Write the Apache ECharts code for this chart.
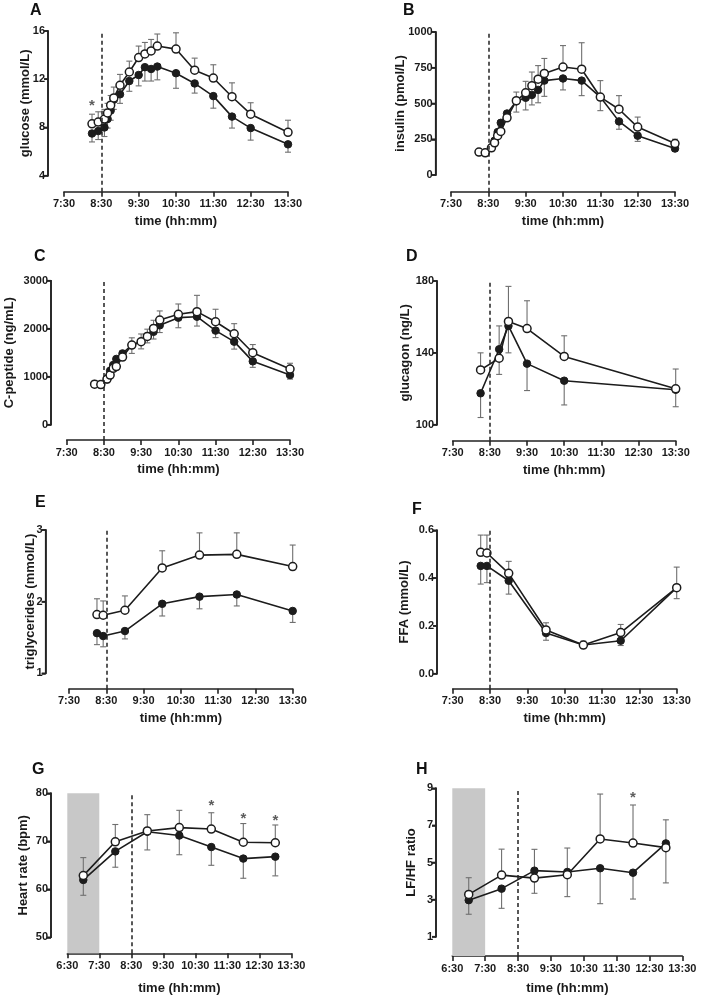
<!DOCTYPE html>
<html><head><meta charset="utf-8">
<script src="https://cdn.jsdelivr.net/npm/echarts@6/dist/echarts.min.js"></script>
<style>html,body{margin:0;padding:0;background:#fff}#c{width:701px;height:999px}</style>
</head><body><div id="c"></div>
<script>
// ---------------- DATA ----------------
const timesABC = ['8:15','8:25','8:35','8:40','8:45','8:50','9:00','9:15','9:30','9:40','9:50','10:00','10:30','11:00','11:30','12:00','12:30','13:30'];
const glucoseOpen      = [8.3, 8.45, 8.7, 9.2, 9.85, 10.45, 11.5, 12.6, 13.8, 14.1, 14.35, 14.75, 14.5, 12.75, 12.1, 10.55, 9.1, 7.6];
const glucoseOpenErr   = [0.8, 0.85, 0.8, 0.8, 0.8, 0.9, 0.9, 0.9, 0.95, 0.95, 0.95, 1.0, 1.35, 1.0, 1.1, 1.15, 0.95, 1.0];
const glucoseClosed    = [7.5, 7.7, 8.0, 8.7, 9.4, 10.3, 10.75, 11.85, 12.35, 13.0, 12.85, 13.05, 12.5, 11.65, 10.6, 8.9, 7.95, 6.6];
const glucoseClosedErr = [0.7, 0.7, 0.75, 0.75, 0.8, 0.8, 0.75, 0.85, 0.9, 1.15, 1.0, 1.1, 1.25, 0.8, 1.0, 0.95, 1.0, 0.65];
const glucoseStarTimes = ['8:15'];
const glucoseStarValues = [10.1];

const insulinOpen      = [160, 155, 190, 225, 275, 305, 400, 520, 575, 625, 670, 710, 755, 740, 545, 460, 335, 220];
const insulinOpenErr   = [15, 15, 20, 25, 30, 35, 40, 60, 80, 95, 95, 105, 150, 185, 115, 95, 70, 30];
const insulinClosed    = [160, 155, 190, 240, 300, 365, 430, 515, 540, 560, 595, 660, 675, 660, 545, 375, 275, 185];
const insulinClosedErr = [15, 15, 20, 25, 35, 40, 45, 75, 85, 70, 90, 110, 80, 105, 95, 55, 40, 20];

const cpepOpen      = [845, 835, 950, 1035, 1175, 1210, 1410, 1660, 1730, 1840, 2005, 2180, 2300, 2355, 2145, 1895, 1500, 1160];
const cpepOpenErr   = [60, 60, 70, 80, 90, 100, 120, 150, 160, 150, 170, 190, 215, 340, 260, 210, 170, 120];
const cpepClosed    = [845, 835, 945, 1125, 1245, 1370, 1485, 1660, 1730, 1845, 1935, 2070, 2230, 2250, 1960, 1730, 1320, 1035];
const cpepClosedErr = [60, 60, 70, 80, 90, 100, 120, 175, 150, 140, 150, 150, 210, 195, 145, 155, 125, 85];

const timesD = ['8:15','8:45','9:00','9:30','10:30','13:30'];
const glucagonOpen      = [130.5, 137, 157.5, 153.5, 138, 120];
const glucagonOpenErr   = [9.5, 18, 19.5, 15.5, 11.5, 11];
const glucagonClosed    = [117.5, 142, 155, 134, 124.5, 119.5];
const glucagonClosedErr = [13.5, 14, 15, 15, 13.5, 9.5];

const timesEF = ['8:15','8:25','9:00','10:00','11:00','12:00','13:30'];
const tgOpen      = [1.82, 1.81, 1.88, 2.47, 2.65, 2.66, 2.49];
const tgOpenErr   = [0.22, 0.2, 0.2, 0.24, 0.31, 0.3, 0.3];
const tgClosed    = [1.56, 1.52, 1.59, 1.97, 2.07, 2.10, 1.87];
const tgClosedErr = [0.16, 0.15, 0.11, 0.17, 0.17, 0.16, 0.16];

const ffaOpen      = [0.508, 0.505, 0.42, 0.183, 0.12, 0.172, 0.36];
const ffaOpenErr   = [0.072, 0.075, 0.05, 0.03, 0.016, 0.034, 0.086];
const ffaClosed    = [0.451, 0.451, 0.389, 0.17, 0.12, 0.138, 0.36];
const ffaClosedErr = [0.076, 0.07, 0.056, 0.03, 0.01, 0.02, 0.046];

const timesGH = ['7:00','8:00','9:00','10:00','11:00','12:00','13:00'];
const hrOpen      = [62.85, 69.9, 72.15, 72.85, 72.55, 69.8, 69.7];
const hrOpenErr   = [3.75, 3.6, 3.4, 3.6, 3.4, 3.9, 3.7];
const hrClosed    = [61.95, 67.9, 72.0, 71.2, 68.8, 66.4, 66.8];
const hrClosedErr = [3.2, 3.3, 3.8, 4.0, 3.8, 4.1, 4.0];
const hrStarTimes = ['11:00','12:00','13:00'];
const hrStarValues = [78.3, 75.5, 75.1];

const lfhfOpen      = [3.28, 4.32, 4.16, 4.34, 6.27, 6.05, 5.8];
const lfhfOpenErr   = [0.9, 1.4, 1.55, 1.44, 2.42, 2.05, 1.5];
const lfhfClosed    = [2.97, 3.59, 4.56, 4.49, 4.69, 4.45, 6.03];
const lfhfClosedErr = [0.76, 1.06, 1.22, 1.33, 1.91, 1.42, 2.13];
const lfhfStarTimes = ['12:00'];
const lfhfStarValues = [8.7];

const mealTime = '8:30';
const restPeriod = ['6:30','7:30'];
const xAxisTitle = 'time (hh:mm)';

// ---------------- PANELS ----------------
const panels = [
  {letter:'A', yName:'glucose (mmol/L)', yMin:4, yMax:16, yInt:4, start:'7:30', end:'13:30', times:timesABC,
   open:glucoseOpen, openErr:glucoseOpenErr, closed:glucoseClosed, closedErr:glucoseClosedErr, starT:glucoseStarTimes, starV:glucoseStarValues},
  {letter:'B', yName:'insulin (pmol/L)', yMin:0, yMax:1000, yInt:250, start:'7:30', end:'13:30', times:timesABC,
   open:insulinOpen, openErr:insulinOpenErr, closed:insulinClosed, closedErr:insulinClosedErr},
  {letter:'C', yName:'C-peptide (ng/mL)', yMin:0, yMax:3000, yInt:1000, start:'7:30', end:'13:30', times:timesABC,
   open:cpepOpen, openErr:cpepOpenErr, closed:cpepClosed, closedErr:cpepClosedErr},
  {letter:'D', yName:'glucagon (ng/L)', yMin:100, yMax:180, yInt:40, start:'7:30', end:'13:30', times:timesD,
   open:glucagonOpen, openErr:glucagonOpenErr, closed:glucagonClosed, closedErr:glucagonClosedErr},
  {letter:'E', yName:'triglycerides (mmol/L)', yMin:1, yMax:3, yInt:1, start:'7:30', end:'13:30', times:timesEF,
   open:tgOpen, openErr:tgOpenErr, closed:tgClosed, closedErr:tgClosedErr},
  {letter:'F', yName:'FFA (mmol/L)', yMin:0, yMax:0.6, yInt:0.2, dec:1, start:'7:30', end:'13:30', times:timesEF,
   open:ffaOpen, openErr:ffaOpenErr, closed:ffaClosed, closedErr:ffaClosedErr},
  {letter:'G', yName:'Heart rate (bpm)', yMin:50, yMax:80, yInt:10, start:'6:30', end:'13:30', times:timesGH,
   open:hrOpen, openErr:hrOpenErr, closed:hrClosed, closedErr:hrClosedErr, starT:hrStarTimes, starV:hrStarValues, shade:restPeriod},
  {letter:'H', yName:'LF/HF ratio', yMin:1, yMax:9, yInt:2, start:'6:30', end:'13:30', times:timesGH,
   open:lfhfOpen, openErr:lfhfOpenErr, closed:lfhfClosed, closedErr:lfhfClosedErr, starT:lfhfStarTimes, starV:lfhfStarValues, shade:restPeriod}
];

// ---------------- LAYOUT (pixels) ----------------
const layout = [
  {x0:64,    x1:288,   yTop:31,    yBot:175.7, yAxisX:48,    xAxisY:191.7, nameGap:16, xNameGap:23, lx:31,  ly:6},
  {x0:451,   x1:675,   yTop:32,    yBot:175,   yAxisX:435.7, xAxisY:191.7, nameGap:29, xNameGap:23, lx:404, ly:6},
  {x0:66.7,  x1:290,   yTop:280.7, yBot:424.7, yAxisX:51,    xAxisY:440,   nameGap:35, xNameGap:23, lx:35,  ly:252},
  {x0:452.7, x1:675.7, yTop:281,   yBot:424.7, yAxisX:437,   xAxisY:440.7, nameGap:25, xNameGap:23, lx:407, ly:252},
  {x0:69,    x1:292.7, yTop:530,   yBot:673.3, yAxisX:45.7,  xAxisY:688.7, nameGap:9,  xNameGap:23, lx:36,  ly:498},
  {x0:452.7, x1:676.7, yTop:530.3, yBot:673.7, yAxisX:437,   xAxisY:688.7, nameGap:26, xNameGap:23, lx:413, ly:505},
  {x0:67.3,  x1:291.3, yTop:793.3, yBot:937.3, yAxisX:51,    xAxisY:953.3, nameGap:21, xNameGap:29, lx:33,  ly:765},
  {x0:452.3, x1:682.3, yTop:788.3, yBot:936.7, yAxisX:436,   xAxisY:956,   nameGap:18, xNameGap:26, lx:417, ly:765}
];
const TICK_LEN = 4;
const AXIS_W = 1.6;

const FONT = '"Liberation Sans", Arial, Helvetica, sans-serif';
const INK = '#1c1c1c';
const AXIS = '#222222';
const ERR = '#6f6f6f';

function toMin(t){ const p = t.split(':'); return (+p[0])*60 + (+p[1]); }
function fmtTime(m){ const h = Math.floor(m/60), mm = m%60; return h + ':' + (mm<10?'0':'') + mm; }

function errRender(dir){
  return function(params, api){
    const x = api.value(0), y = api.value(1), e = api.value(2);
    const p0 = api.coord([x, y]);
    const p1 = api.coord([x, y + dir*e]);
    const hw = 3;
    return {type:'group', children:[
      {type:'line', shape:{x1:p0[0], y1:p0[1], x2:p1[0], y2:p1[1]}, style:{stroke:ERR, lineWidth:1.1}},
      {type:'line', shape:{x1:p1[0]-hw, y1:p1[1], x2:p1[0]+hw, y2:p1[1]}, style:{stroke:ERR, lineWidth:1.1}}
    ]};
  };
}

const option = {animation:false, backgroundColor:'#fff', title:[], grid:[], xAxis:[], yAxis:[], series:[]};
const panelMeta = [];

panels.forEach((p, i) => {
  const L = layout[i];
  const s0 = toMin(p.start), s1 = toMin(p.end);
  const span = s1 - s0;
  const rel = t => toMin(t) - s0;
  const gd = 2*i, gf = 2*i + 1;
  const pxPerMin = (L.x1 - L.x0) / span;
  const xLead = (L.x0 - L.yAxisX) / pxPerMin;
  panelMeta.push({gd, xAt: -xLead});

  option.title.push({text:p.letter, left:L.lx - 1, top:L.ly - 3, padding:0,
    textStyle:{fontFamily:FONT, fontSize:16, fontWeight:'bold', color:'#111'}});

  option.grid.push({left:L.yAxisX, top:L.yTop, width:L.x1 - L.yAxisX, height:L.yBot - L.yTop, containLabel:false});
  option.grid.push({left:L.x0, top:L.yTop, width:L.x1 - L.x0, height:L.xAxisY - L.yTop, containLabel:false});

  option.xAxis.push({type:'value', gridIndex:gd, min:-xLead, max:span, show:true,
    axisLine:{show:false}, axisTick:{show:false}, axisLabel:{show:false}, splitLine:{show:false}});
  option.yAxis.push({type:'value', gridIndex:gd, min:p.yMin, max:p.yMax, interval:p.yInt,
    position:'left',
    name:p.yName, nameLocation:'middle', nameGap:L.nameGap, nameMoveOverlap:false,
    nameTextStyle:{fontFamily:FONT, fontSize:13, fontWeight:'bold', color:'#1a1a1a'},
    axisLine:{show:true, onZero:false, lineStyle:{color:AXIS, width:AXIS_W}},
    axisTick:{show:true, length:TICK_LEN, lineStyle:{color:AXIS, width:AXIS_W}},
    axisLabel:{show:true, fontFamily:FONT, fontSize:11, fontWeight:'bold', color:'#1a1a1a', margin:3,
      formatter: v => p.dec ? v.toFixed(p.dec) : String(v)},
    splitLine:{show:false}});

  option.xAxis.push({type:'value', gridIndex:gf, min:0, max:span, interval:60,
    name:xAxisTitle, nameLocation:'middle', nameGap:L.xNameGap,
    nameTextStyle:{fontFamily:FONT, fontSize:13, fontWeight:'bold', color:'#1a1a1a'},
    axisLine:{show:true, onZero:false, lineStyle:{color:AXIS, width:AXIS_W}},
    axisTick:{show:true, length:5, lineStyle:{color:AXIS, width:AXIS_W}},
    axisLabel:{fontFamily:FONT, fontSize:11, fontWeight:'bold', color:'#1a1a1a', margin:7,
      formatter: v => fmtTime(v + s0)},
    splitLine:{show:false}});
  option.yAxis.push({type:'value', gridIndex:gf, min:0, max:1, show:false});

  const frame = {type:'line', xAxisIndex:gf, yAxisIndex:gf, data:[], silent:true, z:1,
    markLine:{silent:true, symbol:['none','none'], label:{show:false},
      lineStyle:{type:[4,3], color:'#222', width:1.5},
      data:[{xAxis:rel(mealTime)}]}};
  if (p.shade) {
    frame.markArea = {silent:true, itemStyle:{color:'#c8c8c8'},
      data:[[{xAxis:rel(p.shade[0])}, {xAxis:rel(p.shade[1])}]]};
  }
  option.series.push(frame);

  const xs = p.times.map(rel);
  option.series.push({type:'custom', xAxisIndex:gd, yAxisIndex:gd, z:2, silent:true,
    renderItem:errRender(-1), encode:{x:0, y:1},
    data: xs.map((x, k) => [x, p.closed[k], p.closedErr[k]])});
  option.series.push({type:'custom', xAxisIndex:gd, yAxisIndex:gd, z:2, silent:true,
    renderItem:errRender(1), encode:{x:0, y:1},
    data: xs.map((x, k) => [x, p.open[k], p.openErr[k]])});
  option.series.push({type:'line', xAxisIndex:gd, yAxisIndex:gd, z:3, silent:true,
    data: xs.map((x, k) => [x, p.closed[k]]),
    symbol:'circle', symbolSize:7.5, showAllSymbol:true,
    lineStyle:{color:INK, width:1.6}, itemStyle:{color:INK, borderColor:INK, borderWidth:1}});
  option.series.push({type:'line', xAxisIndex:gd, yAxisIndex:gd, z:4, silent:true,
    data: xs.map((x, k) => [x, p.open[k]]),
    symbol:'circle', symbolSize:8, showAllSymbol:true,
    lineStyle:{color:INK, width:1.6}, itemStyle:{color:'#fff', borderColor:INK, borderWidth:1.5}});
  if (p.starT) {
    option.series.push({type:'scatter', xAxisIndex:gd, yAxisIndex:gd, z:5, silent:true,
      data: p.starT.map((t, k) => [rel(t), p.starV[k]]),
      symbol:'circle', symbolSize:1, itemStyle:{color:'rgba(0,0,0,0)'},
      label:{show:true, position:'inside', formatter:'*', offset:[0,4],
        fontFamily:FONT, fontSize:15, fontWeight:'bold', color:'#333'}});
  }
});

const chart = echarts.init(document.getElementById('c'), null, {renderer:'canvas', width:701, height:999});
chart.setOption(option);

// y-axis spine and ticks as filled rects, positioned through each panel's grid scales
const spine = [];
panels.forEach((p, i) => {
  const m = panelMeta[i];
  const L = layout[i];
  const toPx = v => {
    const r = chart.convertToPixel({gridIndex: m.gd}, [m.xAt, v]);
    if (r && isFinite(r[0]) && isFinite(r[1])) return r;
    return [L.yAxisX, L.yBot - (v - p.yMin) / (p.yMax - p.yMin) * (L.yBot - L.yTop)];
  };
  const a = toPx(p.yMax), b = toPx(p.yMin);
  spine.push({type:'rect', silent:true, z:100,
    shape:{x:a[0] - AXIS_W/2, y:a[1] - AXIS_W/2, width:AXIS_W, height:(b[1] - a[1]) + AXIS_W},
    style:{fill:AXIS}});
  const n = Math.round((p.yMax - p.yMin) / p.yInt);
  for (let k = 0; k <= n; k++) {
    const t = toPx(p.yMin + k * p.yInt);
    spine.push({type:'rect', silent:true, z:100,
      shape:{x:t[0] - TICK_LEN, y:t[1] - AXIS_W/2, width:TICK_LEN, height:AXIS_W},
      style:{fill:AXIS}});
  }
});
chart.setOption({graphic:{elements:spine}});
</script></body></html>
